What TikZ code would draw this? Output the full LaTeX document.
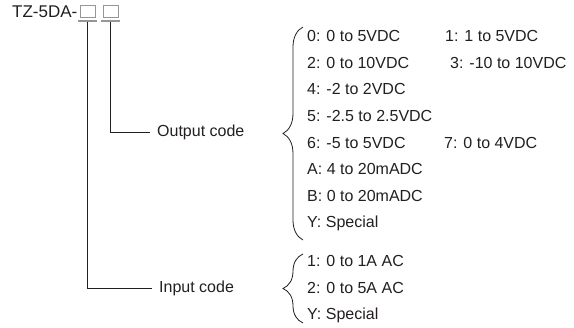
\documentclass[tikz,border=0pt]{standalone}
\usepackage{fontspec}
\setmainfont{Liberation Sans}
\usepackage{tikz}
\usetikzlibrary{positioning, calc, decorations.pathreplacing}
\definecolor{inkcolor}{RGB}{35,31,32}
\definecolor{slotcolor}{RGB}{150,150,150}

\begin{document}
\begin{tikzpicture}[
    x=1pt, y=-1pt,
    txt/.style={anchor=base west, inner sep=0pt, font=\fontsize{16}{19}\selectfont, text=inkcolor},
    codelabel/.style={anchor=mid west, inner ysep=0pt, inner xsep=7pt, font=\fontsize{16}{19}\selectfont, text=inkcolor},
    slot/.style={draw=slotcolor, line width=0.6pt, minimum width=15pt, minimum height=11.5pt, inner sep=0pt},
    bar/.style={draw=slotcolor, line width=1.6pt},
    lead/.style={draw=inkcolor, line width=0.8pt},
    curly/.style={draw=inkcolor, line width=0.8pt, decorate, decoration={brace, amplitude=20pt, aspect=0.5}}
]
    \useasboundingbox (0,0) rectangle (574,328);

    % Model code
    \node[txt, font=\fontsize{17}{20}\selectfont] (model) at (12,17.5) {TZ-5DA-};
    \node[slot] (inslot) at (87.5,11.5) {};
    \node[slot] (outslot) at (110.5,11.5) {};
    \draw[bar] ($(inslot.south west)+(-1.5,3.5)$) -- ($(inslot.south east)+(1.5,3.5)$);
    \draw[bar] ($(outslot.south west)+(-1.5,3.5)$) -- ($(outslot.south east)+(1.5,3.5)$);

    % Code labels
    \node[codelabel] (outlabel) at (150,133.5) {Output code};
    \node[codelabel] (inlabel) at (152,289.5) {Input code};
    \draw[lead] ($(outslot.south)+(0,4.5)$) |- (outlabel.west);
    \draw[lead] ($(inslot.south)+(0,4.5)$) |- (inlabel.west);

    % Output codes
    \node[txt] (out0) at (307,41.7) {0: 0 to 5VDC};
    \node[txt] (out1) at (445,41.7) {1: 1 to 5VDC};
    \node[txt] (out2) at (307,68.3) {2: 0 to 10VDC};
    \node[txt] (out3) at (450,68.3) {3: -10 to 10VDC};
    \node[txt] (out4) at (307,94.9) {4: -2 to 2VDC};
    \node[txt] (out5) at (307,121.5) {5: -2.5 to 2.5VDC};
    \node[txt] (out6) at (307,148.1) {6: -5 to 5VDC};
    \node[txt] (out7) at (444,148.1) {7: 0 to 4VDC};
    \node[txt] (outA) at (307,174.7) {A: 4 to 20mADC};
    \node[txt] (outB) at (307,201.3) {B: 0 to 20mADC};
    \node[txt] (outY) at (307,227.9) {Y: Special};

    % Input codes
    \node[txt] (in1) at (307,266.7) {1: 0 to 1A AC};
    \node[txt] (in2) at (307,293.2) {2: 0 to 5A AC};
    \node[txt] (inY) at (307,319.7) {Y: Special};

    % Braces
    \coordinate (outbot) at (303,240);
    \coordinate (outtop) at (303,27);
    \coordinate (inbot) at (303,323);
    \coordinate (intop) at (303,254);
    \draw[curly] (outbot) -- (outtop);
    \draw[curly] (inbot) -- (intop);
\end{tikzpicture}
\end{document}
